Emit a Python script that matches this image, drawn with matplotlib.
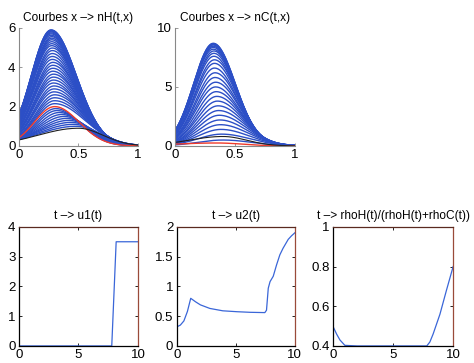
import numpy as np
import matplotlib
matplotlib.use('Agg')
import matplotlib.pyplot as plt

plt.rcParams['font.family'] = ['Liberation Sans', 'DejaVu Sans']

# --- profile curves (peak height, peak position, left width, right width) ---
# nH(t,x): black = first time, red = one intermediate time, blue = the rest
nH_black = (0.9, 0.50, 0.48, 0.29)
nH_red = (2.0, 0.30, 0.24, 0.29)
nH_low_peaks = [1.0, 1.1, 1.2, 1.3, 1.4, 1.5, 1.6, 1.7, 1.8, 1.9]
nH_low_pos = [0.48, 0.46, 0.44, 0.42, 0.40, 0.38, 0.36, 0.34, 0.32, 0.31]
nH_low_wl = [0.45, 0.42, 0.39, 0.36, 0.33, 0.31, 0.29, 0.27, 0.25, 0.245]
nH_high_peaks = [2.15, 2.3, 2.45, 2.6, 2.75, 2.9, 3.05, 3.2, 3.35, 3.5, 3.65,
                 3.8, 3.95, 4.1, 4.25, 4.4, 4.55, 4.7, 4.85, 4.98, 5.1, 5.2,
                 5.3, 5.4, 5.48, 5.56, 5.63, 5.7, 5.75, 5.8, 5.84, 5.87, 5.89, 5.9]
nH_high_pos = [0.30, 0.30, 0.30, 0.30, 0.295, 0.295, 0.295, 0.29, 0.29, 0.29,
               0.29, 0.285, 0.285, 0.285, 0.285, 0.28, 0.28, 0.28, 0.28, 0.28,
               0.275, 0.275, 0.275, 0.275, 0.275, 0.275, 0.27, 0.27, 0.27, 0.27,
               0.27, 0.27, 0.27, 0.27]
nH_high_wr = [0.36, 0.355, 0.35, 0.345, 0.34, 0.337, 0.334, 0.331, 0.328,
              0.325, 0.322, 0.32, 0.318, 0.316, 0.314, 0.312, 0.31, 0.308,
              0.306, 0.305, 0.304, 0.303, 0.302, 0.301, 0.30, 0.30, 0.30,
              0.30, 0.30, 0.30, 0.30, 0.30, 0.30, 0.30]

# nC(t,x)
nC_red = (0.25, 0.35, 0.50, 0.30)
nC_black = (0.8, 0.40, 0.40, 0.28)
nC_peaks = [0.5, 1.0, 1.4, 1.8, 2.2, 2.6, 3.0, 3.4, 3.8, 4.2, 4.6, 5.0, 5.4,
            5.8, 6.2, 6.6, 7.0, 7.3, 7.6, 7.85, 8.05, 8.2, 8.35, 8.45, 8.55,
            8.62, 8.67, 8.7]
nC_pos = [0.40, 0.39, 0.385, 0.38, 0.375, 0.37, 0.365, 0.36, 0.355, 0.35,
          0.345, 0.34, 0.34, 0.335, 0.335, 0.33, 0.33, 0.33, 0.325, 0.325,
          0.325, 0.32, 0.32, 0.32, 0.32, 0.32, 0.32, 0.32]
nC_wl = [0.30, 0.28, 0.27, 0.26, 0.255, 0.25, 0.245, 0.24, 0.24, 0.235,
         0.235, 0.235, 0.235, 0.232, 0.232, 0.232, 0.232, 0.232, 0.232, 0.232,
         0.232, 0.232, 0.232, 0.232, 0.232, 0.232, 0.232, 0.232]
nC_wr = [0.34, 0.335, 0.33, 0.325, 0.32, 0.315, 0.31, 0.305, 0.30, 0.295,
         0.29, 0.285, 0.282, 0.279, 0.276, 0.273, 0.27, 0.268, 0.266, 0.265,
         0.264, 0.263, 0.262, 0.261, 0.26, 0.26, 0.26, 0.26]

# --- time series ---
t_u1 = [0, 7.8, 8.17, 10]
u1 = [0, 0, 3.5, 3.5]

t_u2 = [0, 0.3, 0.6, 0.9, 1.18, 1.6, 2.0, 2.8, 3.9, 5.1, 6.2, 7.46, 7.6,
        7.75, 7.9, 8.17, 8.45, 8.73, 9.0, 9.44, 9.72, 10]
u2 = [0.32, 0.35, 0.42, 0.58, 0.80, 0.74, 0.69, 0.63, 0.59, 0.575, 0.565,
      0.56, 0.60, 0.97, 1.08, 1.17, 1.36, 1.53, 1.64, 1.79, 1.85, 1.9]

t_rho = [0, 0.28, 0.56, 0.97, 2, 4, 6, 7.8, 8.06, 8.33, 8.9, 9.44, 10]
rho = [0.496, 0.46, 0.43, 0.403, 0.4, 0.4, 0.4, 0.4, 0.42, 0.46, 0.56, 0.68, 0.80]

BLUE = '#2c4fc6'
RED = '#f03a2a'
LINE = '#3a66d8'
EDGE = '#9a4a3a'

x = np.linspace(0, 1, 201)


def bump(a, p, wl, wr):
    w = np.where(x < p, wl, wr)
    return a * np.exp(-((x - p) / w) ** 2)


fig = plt.figure(figsize=(4.74, 3.63), dpi=100)

def style_top(ax):
    for s in ['top', 'right']:
        ax.spines[s].set_visible(False)
    for s in ['left', 'bottom']:
        ax.spines[s].set_color('#888888')
        ax.spines[s].set_linewidth(0.8)
    ax.tick_params(direction='in', length=2.5, width=0.6, color='#888888',
                   labelsize=9.5, pad=2.5)

def style_bottom(ax):
    ax.spines['left'].set_color('black')
    ax.spines['bottom'].set_color('black')
    ax.spines['top'].set_color('#5a2a20')
    ax.spines['right'].set_color(EDGE)
    for s in ax.spines.values():
        s.set_linewidth(0.9)
    ax.tick_params(direction='in', length=2.5, width=0.6, labelsize=9.5,
                   top=True, right=True, pad=2.5)

# nH
ax1 = fig.add_axes([0.040, 0.598, 0.251, 0.325])
for a, p, wl in zip(nH_low_peaks, nH_low_pos, nH_low_wl):
    ax1.plot(x, bump(a, p, wl, 0.29), color=BLUE, lw=1.0)
for a, p, wr in zip(nH_high_peaks, nH_high_pos, nH_high_wr):
    ax1.plot(x, bump(a, p, 0.235, wr), color=BLUE, lw=1.0)
ax1.plot(x, bump(*nH_red), color=RED, lw=1.0)
ax1.plot(x, bump(*nH_black), color='#202020', lw=0.8)
ax1.set_xlim(0, 1)
ax1.set_ylim(0, 6)
ax1.set_xticks([0, 0.5, 1])
ax1.set_xticklabels(['0', '0.5', '1'])
ax1.set_yticks([0, 2, 4, 6])
ax1.set_title('Courbes x –> nH(t,x)', fontsize=8.6, pad=5)
style_top(ax1)

# nC
ax2 = fig.add_axes([0.369, 0.598, 0.253, 0.325])
for a, p, wl, wr in zip(nC_peaks, nC_pos, nC_wl, nC_wr):
    ax2.plot(x, bump(a, p, wl, wr), color=BLUE, lw=1.0)
ax2.plot(x, bump(*nC_red), color=RED, lw=1.0)
ax2.plot(x, bump(*nC_black), color='#202020', lw=0.8)
ax2.set_xlim(0, 1)
ax2.set_ylim(0, 10)
ax2.set_xticks([0, 0.5, 1])
ax2.set_xticklabels(['0', '0.5', '1'])
ax2.set_yticks([0, 5, 10])
ax2.set_title('Courbes x –> nC(t,x)', fontsize=8.6, pad=5)
style_top(ax2)

# u1
ax3 = fig.add_axes([0.040, 0.047, 0.251, 0.328])
ax3.plot(t_u1, u1, color=LINE, lw=0.9)
ax3.set_xlim(0, 10)
ax3.set_ylim(0, 4)
ax3.set_xticks([0, 5, 10])
ax3.set_yticks([0, 1, 2, 3, 4])
ax3.set_title('t –> u1(t)', fontsize=8.6, pad=5.5)
style_bottom(ax3)

# u2
ax4 = fig.add_axes([0.373, 0.047, 0.249, 0.328])
ax4.plot(t_u2, u2, color=LINE, lw=0.9)
ax4.set_xlim(0, 10)
ax4.set_ylim(0, 2)
ax4.set_xticks([0, 5, 10])
ax4.set_yticks([0, 0.5, 1, 1.5, 2])
ax4.set_yticklabels(['0', '0.5', '1', '1.5', '2'])
ax4.set_title('t –> u2(t)', fontsize=8.6, pad=5.5)
style_bottom(ax4)

# rho ratio
ax5 = fig.add_axes([0.703, 0.047, 0.253, 0.328])
ax5.plot(t_rho, rho, color=LINE, lw=0.9)
ax5.set_xlim(0, 10)
ax5.set_ylim(0.4, 1)
ax5.set_xticks([0, 5, 10])
ax5.set_yticks([0.4, 0.6, 0.8, 1])
ax5.set_yticklabels(['0.4', '0.6', '0.8', '1'])
ax5.set_title('t –> rhoH(t)/(rhoH(t)+rhoC(t))', fontsize=8.6, pad=5.5)
style_bottom(ax5)

fig.savefig('out.png', dpi=100)
